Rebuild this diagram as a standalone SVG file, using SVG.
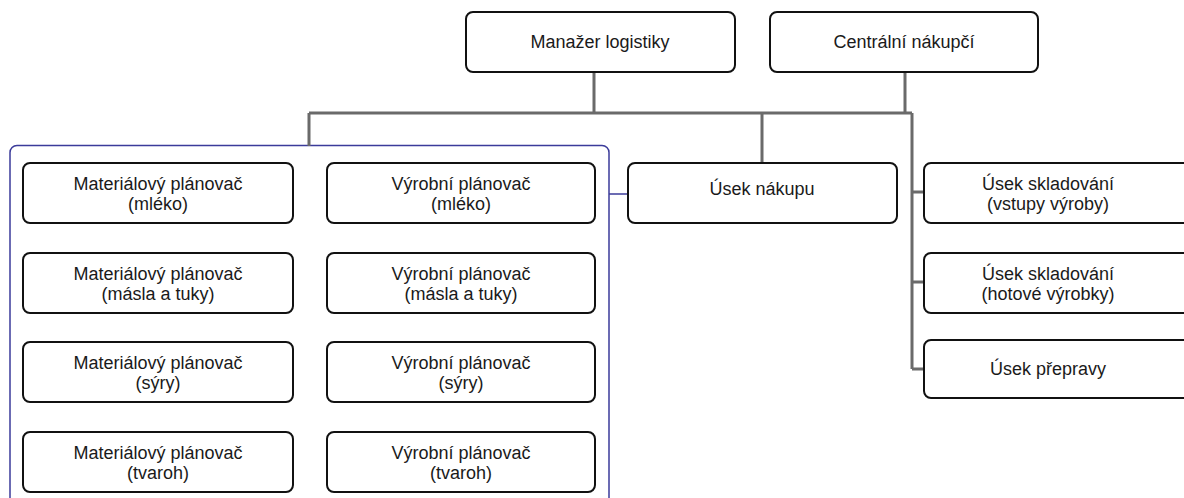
<svg xmlns="http://www.w3.org/2000/svg" width="1184" height="498" viewBox="0 0 1184 498">
<style>
.box{fill:#fff;stroke:#111;stroke-width:2}
.t{font-family:"Liberation Sans",Arial,sans-serif;font-size:18px;fill:#1a1a1a;text-anchor:middle}
.c{fill:none;stroke:#6a6a6a;stroke-width:3}
.b{fill:none;stroke:#3b3b9a;stroke-width:1.5}
</style>
<rect width="1184" height="498" fill="#fff"/>
<g id="group-planners">
<rect x="10" y="145.5" width="599" height="370" rx="7" class="b"/>
</g>
<g id="connectors">
<path class="c" d="M594,72V113M905,72V113M309,113H912M309,113V146M762,113V163M912,113V369M912,192H924M912,282H924M912,369H924"/>
<path class="b" d="M609,194H628" stroke-width="2"/>
</g>
<g id="n-manazer"><rect class="box" x="466" y="12" width="269" height="60" rx="7"/><text class="t" x="600" y="48">Manažer logistiky</text></g>
<g id="n-centralni"><rect class="box" x="770" y="12" width="268" height="60" rx="7"/><text class="t" x="904" y="48">Centrální nákupčí</text></g>
<g id="n-mat-mleko"><rect class="box" x="23" y="163" width="270" height="60" rx="7"/><text class="t" x="158" y="190">Materiálový plánovač</text><text class="t" x="158" y="210">(mléko)</text></g>
<g id="n-mat-masla"><rect class="box" x="23" y="253" width="270" height="60" rx="7"/><text class="t" x="158" y="280">Materiálový plánovač</text><text class="t" x="158" y="300">(másla a tuky)</text></g>
<g id="n-mat-syry"><rect class="box" x="23" y="342" width="270" height="60" rx="7"/><text class="t" x="158" y="369">Materiálový plánovač</text><text class="t" x="158" y="389">(sýry)</text></g>
<g id="n-mat-tvaroh"><rect class="box" x="23" y="432" width="270" height="60" rx="7"/><text class="t" x="158" y="459">Materiálový plánovač</text><text class="t" x="158" y="479">(tvaroh)</text></g>
<g id="n-vyr-mleko"><rect class="box" x="327" y="163" width="268" height="60" rx="7"/><text class="t" x="461" y="190">Výrobní plánovač</text><text class="t" x="461" y="210">(mléko)</text></g>
<g id="n-vyr-masla"><rect class="box" x="327" y="253" width="268" height="60" rx="7"/><text class="t" x="461" y="280">Výrobní plánovač</text><text class="t" x="461" y="300">(másla a tuky)</text></g>
<g id="n-vyr-syry"><rect class="box" x="327" y="342" width="268" height="60" rx="7"/><text class="t" x="461" y="369">Výrobní plánovač</text><text class="t" x="461" y="389">(sýry)</text></g>
<g id="n-vyr-tvaroh"><rect class="box" x="327" y="432" width="268" height="60" rx="7"/><text class="t" x="461" y="459">Výrobní plánovač</text><text class="t" x="461" y="479">(tvaroh)</text></g>
<g id="n-nakup"><rect class="box" x="628" y="163" width="269" height="60" rx="7"/><text class="t" x="762" y="195">Úsek nákupu</text></g>
<g id="n-sklad-vstupy"><rect class="box" x="924" y="163" width="275" height="60" rx="7"/><text class="t" x="1048" y="190">Úsek skladování</text><text class="t" x="1048" y="210">(vstupy výroby)</text></g>
<g id="n-sklad-hotove"><rect class="box" x="924" y="253" width="275" height="60" rx="7"/><text class="t" x="1048" y="280">Úsek skladování</text><text class="t" x="1048" y="300">(hotové výrobky)</text></g>
<g id="n-preprava"><rect class="box" x="924" y="340" width="275" height="58" rx="7"/><text class="t" x="1048" y="375">Úsek přepravy</text></g>
</svg>
